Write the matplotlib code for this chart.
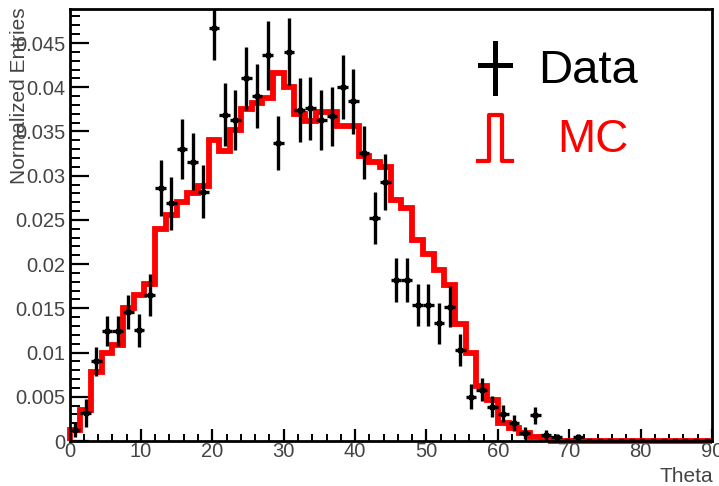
import matplotlib
matplotlib.use("Agg")
import matplotlib.pyplot as plt
import numpy as np
from matplotlib.lines import Line2D

# histogram binning: 60 bins of 1.5 from 0 to 90
bin_edges = np.linspace(0, 90, 61)
bin_centers = 0.5 * (bin_edges[:-1] + bin_edges[1:])

mc = [0.0012, 0.0035, 0.0078, 0.0099, 0.0108, 0.0150, 0.0165, 0.0177, 0.0240, 0.0256,
      0.0270, 0.0280, 0.0288, 0.0340, 0.0328, 0.0352, 0.0375, 0.0382, 0.0388, 0.0416,
      0.0400, 0.0370, 0.0362, 0.0372, 0.0372, 0.0356, 0.0356, 0.0322, 0.0316, 0.0310,
      0.0272, 0.0264, 0.0227, 0.0212, 0.0193, 0.0176, 0.0132, 0.0100, 0.0062, 0.0046,
      0.0020, 0.0015, 0.0009, 0.0005, 0.0002, 0, 0, 0, 0, 0,
      0, 0, 0, 0, 0, 0, 0, 0, 0, 0]

data = [0.0012, 0.0032, 0.0090, 0.0124, 0.0124, 0.0146, 0.0125, 0.0165, 0.0286, 0.0269,
        0.0330, 0.0316, 0.0282, 0.0467, 0.0369, 0.0363, 0.0410, 0.0390, 0.0436, 0.0337,
        0.0440, 0.0374, 0.0376, 0.0363, 0.0367, 0.0400, 0.0384, 0.0326, 0.0252, 0.0293,
        0.0182, 0.0182, 0.0154, 0.0154, 0.0133, 0.0152, 0.0103, 0.0050, 0.0058, 0.0039,
        0.0031, 0.0020, 0.0009, 0.0029, 0.0007, 0.0004, 0, 0.0004, 0, 0,
        0, 0, 0, 0, 0, 0, 0, 0, 0, 0]

data_err = [0.0008, 0.0016, 0.0016, 0.0017, 0.0017, 0.0019, 0.0019, 0.0024, 0.0032, 0.0030,
            0.0034, 0.0032, 0.0030, 0.0036, 0.0036, 0.0034, 0.0036, 0.0036, 0.0039, 0.0031,
            0.0038, 0.0036, 0.0036, 0.0034, 0.0033, 0.0036, 0.0037, 0.0030, 0.0029, 0.0032,
            0.0025, 0.0025, 0.0024, 0.0024, 0.0023, 0.0023, 0.0018, 0.0014, 0.0013, 0.0012,
            0.0010, 0.0009, 0.0007, 0.0010, 0.0006, 0.0004, 0, 0.0004, 0, 0,
            0, 0, 0, 0, 0, 0, 0, 0, 0, 0]

yticks = [0, 0.005, 0.01, 0.015, 0.02, 0.025, 0.03, 0.035, 0.04, 0.045]
ytick_labels = ["0", "0.005", "0.01", "0.015", "0.02", "0.025", "0.03", "0.035", "0.04", "0.045"]
xticks = [0, 10, 20, 30, 40, 50, 60, 70, 80, 90]

font = "Liberation Sans"
gray = "#444444"

fig = plt.figure(figsize=(7.19, 4.86), dpi=100)
ax = fig.add_axes([69.5 / 719, 1 - 441 / 486, (712 - 69.5) / 719, (441 - 9) / 486])

ax.stairs(mc, bin_edges, color="red", lw=4.2, baseline=0, zorder=2, clip_on=False)
ax.errorbar(bin_centers, data, yerr=data_err, xerr=0.75, fmt="s", ms=3.5,
            color="black", ecolor="black", elinewidth=2.4, capsize=0, zorder=3)

ax.set_xlim(0, 90)
ax.set_ylim(0, (441 - 9) / 8844)
ax.set_xticks(xticks)
ax.set_xticks(np.arange(0, 91, 2), minor=True)
ax.set_yticks(yticks)
ax.set_yticklabels(ytick_labels)
ax.set_yticks(np.arange(0, 0.0485, 0.001), minor=True)

ax.tick_params(axis="both", which="both", direction="in", colors="black",
               labelcolor=gray, top=False, right=False)
ax.tick_params(axis="y", which="major", length=14, width=1.6, pad=3)
ax.tick_params(axis="y", which="minor", length=7, width=1.4)
ax.tick_params(axis="x", which="major", length=9, width=1.6, pad=1)
ax.tick_params(axis="x", which="minor", length=5, width=1.4)
for lab in ax.get_xticklabels() + ax.get_yticklabels():
    lab.set_family(font)
    lab.set_fontsize(14.5)
for sp in ax.spines.values():
    sp.set_linewidth(2)

fig.text(20 / 719, 1 - 7 / 486, "Normalized Entries", rotation=90, ha="center", va="top",
         fontsize=15, color=gray, family=font)
fig.text(713 / 719, 1 - 476 / 486, "Theta", ha="right", va="center",
         fontsize=15, color=gray, family=font)

# legend
def px(x, y):
    return x / 719, 1 - y / 486

x0, y0 = px(495, 43)
x1, y1 = px(495, 93)
fig.add_artist(Line2D([x0, x1], [y0, y1], color="black", lw=3.6))
x0, y0 = px(480, 65)
x1, y1 = px(510, 65)
fig.add_artist(Line2D([x0, x1], [y0, y1], color="black", lw=3.6))
step = [px(478, 161), px(489, 161), px(489, 115), px(502, 115), px(502, 161), px(512, 161)]
fig.add_artist(Line2D([p[0] for p in step], [p[1] for p in step], color="red", lw=3))
fig.text(538 / 719, 1 - 83 / 486, "Data", fontsize=34, color="black",
         family=font, ha="left", va="baseline")
fig.text(557 / 719, 1 - 152 / 486, "MC", fontsize=33, color="red",
         family=font, ha="left", va="baseline")

fig.savefig("out.png", dpi=100)
